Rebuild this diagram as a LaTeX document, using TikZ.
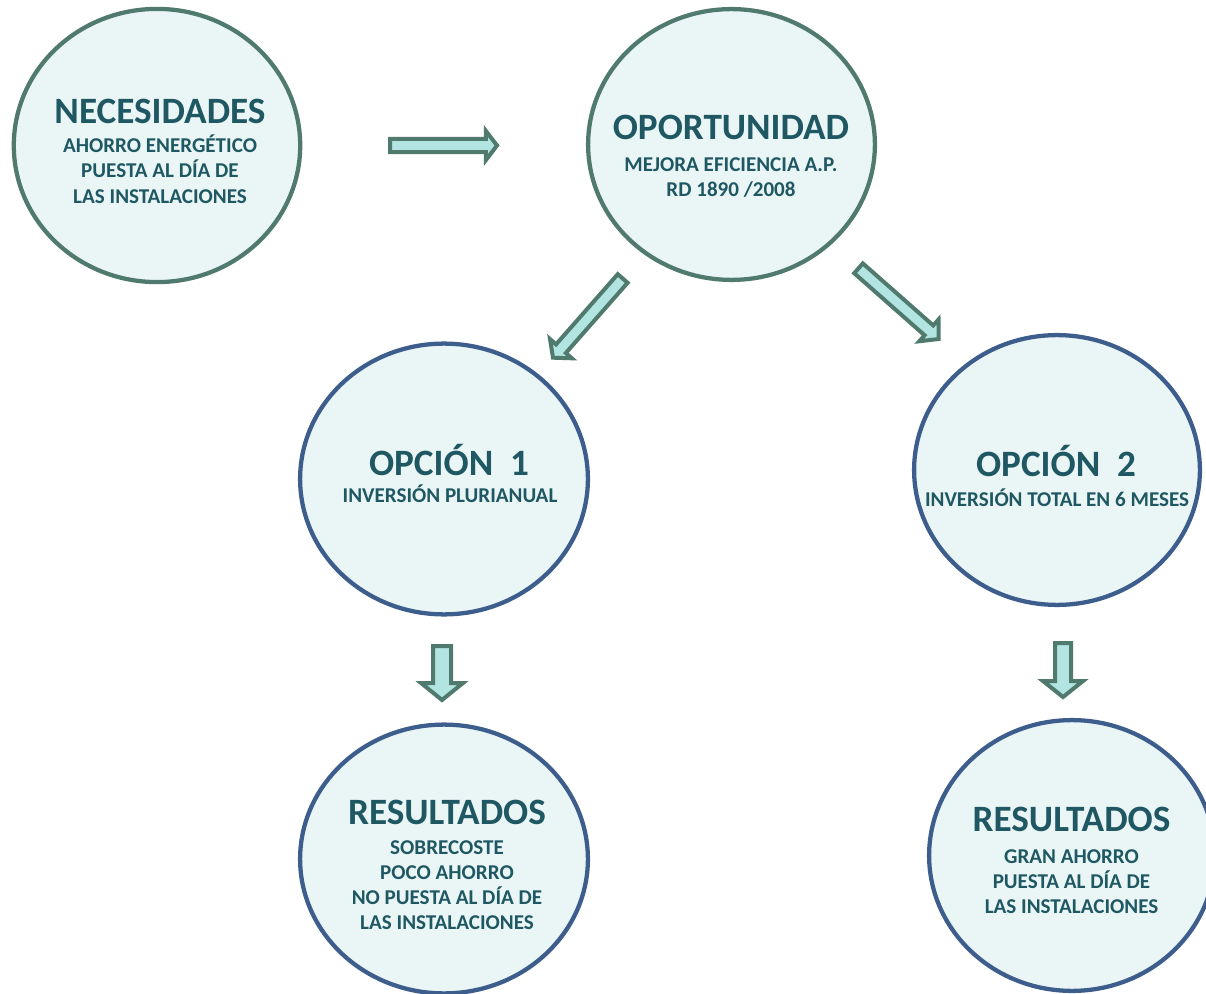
\documentclass[tikz,border=0pt]{standalone}
\usepackage{fontspec}
\setmainfont{Carlito}
\usetikzlibrary{shapes.geometric,calc}
\definecolor{topline}{HTML}{507A6E}
\definecolor{lowline}{HTML}{3D5E8C}
\definecolor{bubble}{HTML}{EAF6F6}
\definecolor{txt}{HTML}{1F5863}
\definecolor{arrfill}{HTML}{B2E5E2}
\tikzset{
  bub/.style={ellipse, fill=bubble, line width=3.2pt, inner sep=0pt},
  topbub/.style={bub, draw=topline},
  lowbub/.style={bub, draw=lowline},
  ttl/.style={font=\bfseries\fontsize{27.9}{33}\selectfont, text=txt, anchor=base, inner sep=0pt},
  subtxt/.style={font=\bfseries\fontsize{15.8}{18.9}\selectfont, text=txt, anchor=base, inner sep=0pt},
  blockarr/.style={draw=topline, fill=arrfill, line width=3pt, line join=miter},
}
\newcommand\lines[1]{\begin{tabular}[t]{@{}c@{}}#1\end{tabular}}
% #1 name, #2 tail, #3 tip, #4 shaft half width, #5 head half width, #6 head length
\newcommand\blkarrow[6]{%
  \coordinate (#1h) at ($(#3)!#6!(#2)$);
  \draw[blockarr] ($(#2)!#4!90:(#3)$) -- ($(#1h)!#4!90:(#3)$) -- ($(#1h)!#5!90:(#3)$) -- (#3)
    -- ($(#1h)!#5!-90:(#3)$) -- ($(#1h)!#4!-90:(#3)$) -- ($(#2)!#4!-90:(#3)$) -- cycle;}
\begin{document}
\begin{tikzpicture}[x=0.75pt,y=-0.75pt]
\useasboundingbox (0,0) rectangle (1206,994);
\clip (0,0) rectangle (1206,994);

% bubbles
\node[topbub, minimum width=214.8pt, minimum height=204.9pt] (nec) at (157,145.5) {};
\node[topbub, minimum width=215.1pt, minimum height=203.1pt] (opo) at (731.5,144.5) {};
\node[lowbub, minimum width=215.85pt, minimum height=203.1pt] (op1) at (444,479) {};
\node[lowbub, minimum width=214.35pt, minimum height=202.35pt] (op2) at (1057,470) {};
\node[lowbub, minimum width=215.85pt, minimum height=201.6pt] (res1) at (444,859) {};
\node[lowbub, minimum width=214.35pt, minimum height=203.1pt] (res2) at (1072,855.5) {};

% texts
\node[ttl] (necT) at (160,123.3) {NECESIDADES};
\node[subtxt] (necS) at (160,152.7) {\lines{AHORRO ENERGÉTICO\\PUESTA AL DÍA DE\\LAS INSTALACIONES}};

\node[ttl] (opoT) at (731,139.3) {OPORTUNIDAD};
\node[subtxt] (opoS) at (731,171.7) {\lines{MEJORA EFICIENCIA A.P.\\RD 1890 /2008}};

\node[ttl] (op1T) at (449,475) {OPCIÓN\ \ 1};
\node[subtxt] (op1S) at (450,503) {INVERSIÓN PLURIANUAL};

\node[ttl] (op2T) at (1056,477) {OPCIÓN\ \ 2};
\node[subtxt] (op2S) at (1057,507) {INVERSIÓN TOTAL EN 6 MESES};

\node[ttl] (res1T) at (447,824) {RESULTADOS};
\node[subtxt] (res1S) at (447,854) {\lines{SOBRECOSTE\\POCO AHORRO\\NO PUESTA AL DÍA DE\\LAS INSTALACIONES}};

\node[ttl] (res2T) at (1071.5,831.7) {RESULTADOS};
\node[subtxt] (res2S) at (1071.5,863.3) {\lines{GRAN AHORRO\\PUESTA AL DÍA DE\\LAS INSTALACIONES}};

% block arrows
\coordinate (a1t) at (390,145.5);   \coordinate (a1h) at (497,145.5);
\coordinate (a2t) at (622.7,278.5); \coordinate (a2h) at (553,357.7);
\coordinate (a3t) at (858.5,268.3); \coordinate (a3h) at (938.7,339);
\coordinate (a4t) at (442,646);     \coordinate (a4h) at (442,700);
\coordinate (a5t) at (1063,643);    \coordinate (a5h) at (1063,697);

\blkarrow{ar1}{a1t}{a1h}{4.9pt}{10.9pt}{8.3pt}
\blkarrow{ar2}{a2t}{a2h}{4.9pt}{10.9pt}{9pt}
\blkarrow{ar3}{a3t}{a3h}{4.9pt}{10.9pt}{9.8pt}
\blkarrow{ar4}{a4t}{a4h}{6.75pt}{15.75pt}{12.75pt}
\blkarrow{ar5}{a5t}{a5h}{6pt}{15pt}{12pt}
\end{tikzpicture}
\end{document}
